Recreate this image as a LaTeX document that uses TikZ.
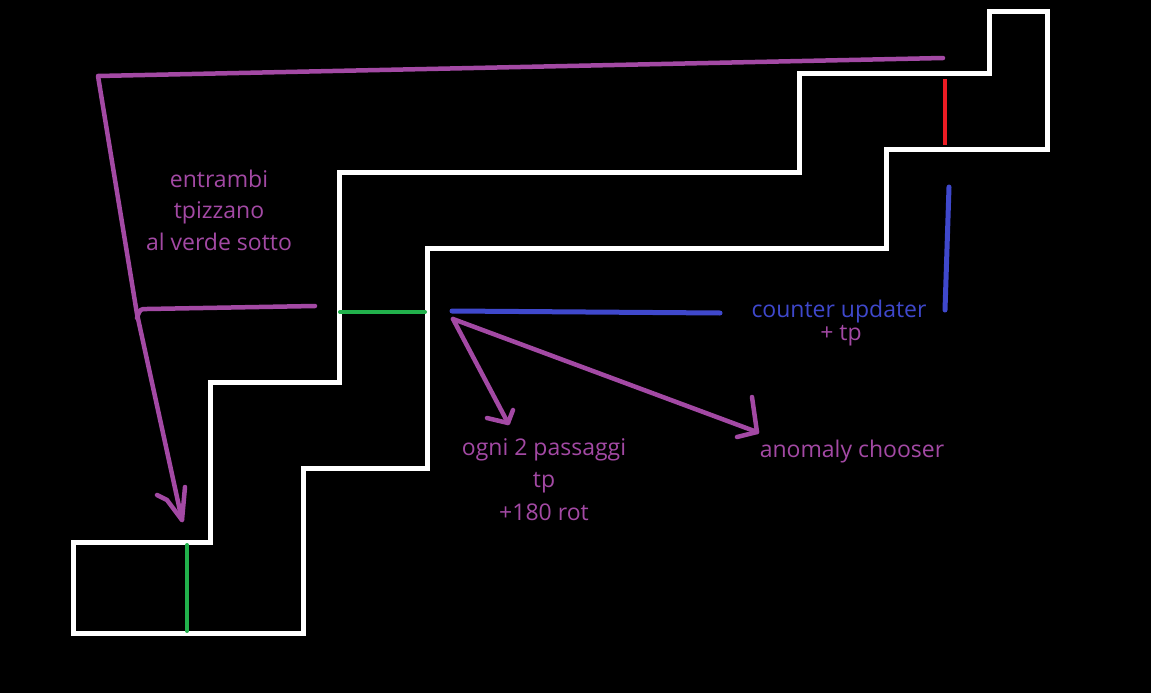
\documentclass[tikz,border=0pt]{standalone}
\usepackage{fontspec}
\setmainfont{Open Sans}
\definecolor{ppurple}{HTML}{A349A4}
\definecolor{pblue}{HTML}{3F48CC}
\definecolor{pgreen}{HTML}{22B14C}
\definecolor{pred}{HTML}{ED1C24}
\begin{document}
\begin{tikzpicture}[x=1pt,y=-1pt,
  wall/.style={draw=white,line width=5pt,line join=miter},
  pstroke/.style={draw=ppurple,line width=4.5pt,line cap=round,line join=round},
  bstroke/.style={draw=pblue,line width=5pt,line cap=round},
  gstroke/.style={draw=pgreen,line width=4pt,line cap=round},
  rstroke/.style={draw=pred,line width=4pt},
  lbl/.style={font=\fontsize{23}{27}\selectfont,anchor=base,inner sep=0pt}]
\fill[black] (0,0) rectangle (1151,693);
\useasboundingbox (0,0) rectangle (1151,693);
% corridor
\draw[wall] (73,633) -- (73,542) -- (210,542) -- (210,382) -- (339,382) -- (339,172)
  -- (799,172) -- (799,74) -- (989,74) -- (989,12) -- (1047,12) -- (1047,149)
  -- (886,149) -- (886,248) -- (427,248) -- (427,468) -- (303,468) -- (303,633) -- cycle;
% gates
\draw[gstroke] (187,545) -- (187,631);
\draw[gstroke] (340,312) -- (425,312);
\draw[rstroke] (945,79) -- (945,145);
% blue
\coordinate (bs) at (452,311);
\coordinate (be) at (720,313);
\draw[bstroke] (bs) -- (be);
\coordinate (bv1) at (949,187);
\coordinate (bv2) at (945,310);
\draw[bstroke] (bv1) -- (bv2);
% purple teleport lines
\coordinate (pt1) at (943,58);
\coordinate (pt2) at (98,76);
\coordinate (pt3) at (137,314);
\coordinate (pt4) at (182,520);
\draw[pstroke] (pt1) -- (pt2) -- (pt3) -- (pt4);
\coordinate (ph) at (315,306);
\draw[pstroke] (ph) -- (147,309) .. controls (140,309) .. (137,318);
\draw[pstroke] (157,495) -- (167,500) -- (pt4) -- (185,487);
% arrows from blue start
\coordinate (a1) at (508,423);
\coordinate (a2) at (757,432);
\draw[pstroke] (453,319) -- (a1);
\draw[pstroke] (487,418) -- (a1) -- (513,410);
\draw[pstroke] (453,319) -- (a2);
\draw[pstroke] (737,437) -- (a2) -- (752,397);
% texts
\node[lbl,text=ppurple] (t1) at (219,187) {entrambi};
\node[lbl,text=ppurple] (t2) at (219,218) {tpizzano};
\node[lbl,text=ppurple] (t3) at (219,250) {al verde sotto};
\node[lbl,text=pblue] (c1) at (839,317) {counter updater};
\node[lbl,text=ppurple] (c2) at (841,340) {+ tp};
\node[lbl,text=ppurple] (o1) at (544,455) {ogni 2 passaggi};
\node[lbl,text=ppurple] (o2) at (544,487) {tp};
\node[lbl,text=ppurple] (o3) at (544,520) {+180 rot};
\node[lbl,text=ppurple] (an) at (852,457) {anomaly chooser};
\end{tikzpicture}
\end{document}
